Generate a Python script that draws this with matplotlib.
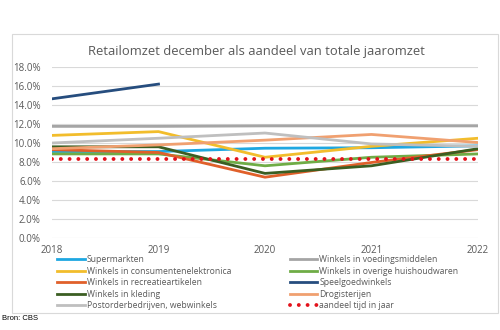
import matplotlib.pyplot as plt
from matplotlib.ticker import PercentFormatter
from matplotlib.patches import Rectangle

plt.rcParams['font.family'] = ['Open Sans', 'DejaVu Sans']

years = [2018, 2019, 2020, 2021, 2022]

supermarkten = [9.1, 9.1, 9.45, 9.5, 9.7]
voedingsmiddelen = [11.75, 11.75, 11.8, 11.8, 11.8]
consumentenelektronica = [10.8, 11.2, 8.5, 9.65, 10.5]
overige_huishoudwaren = [8.85, 8.85, 7.6, 8.5, 8.85]
recreatieartikelen = [9.3, 9.0, 6.4, 7.95, 9.3]
speelgoed_years = [2018, 2019]
speelgoedwinkels = [14.65, 16.2]
kleding = [9.6, 9.6, 6.8, 7.6, 9.4]
drogisterijen = [9.4, 9.8, 10.3, 10.9, 10.05]
postorder = [10.0, 10.5, 11.05, 9.9, 9.65]
aandeel = [8.33, 8.33, 8.33, 8.33, 8.33]

fig = plt.figure(figsize=(5, 3.3), dpi=100)
fig.patches.append(Rectangle((12 / 500, 1 - 313 / 330), 486 / 500, 279 / 330,
                             transform=fig.transFigure, fill=False,
                             edgecolor='#d9d9d9', linewidth=0.8))
ax = fig.add_axes([52 / 500, 1 - 238 / 330, 426 / 500, 171 / 330])

lw = 2.0
h = {}
h['Supermarkten'], = ax.plot(years, supermarkten, color='#1ea7e1', lw=lw)
h['Winkels in voedingsmiddelen'], = ax.plot(years, voedingsmiddelen, color='#a5a5a5', lw=lw)
h['Winkels in consumentenelektronica'], = ax.plot(years, consumentenelektronica, color='#f2bd2c', lw=lw)
h['Winkels in overige huishoudwaren'], = ax.plot(years, overige_huishoudwaren, color='#6fac46', lw=lw)
h['Winkels in recreatieartikelen'], = ax.plot(years, recreatieartikelen, color='#e0602a', lw=lw)
h['Speelgoedwinkels'], = ax.plot(speelgoed_years, speelgoedwinkels, color='#264d7e', lw=lw)
h['Winkels in kleding'], = ax.plot(years, kleding, color='#3b5e22', lw=lw)
h['Drogisterijen'], = ax.plot(years, drogisterijen, color='#f0a070', lw=lw)
h['Postorderbedrijven, webwinkels'], = ax.plot(years, postorder, color='#bfbfbf', lw=lw)
h['aandeel tijd in jaar'], = ax.plot(years, aandeel, color='#e3121b', lw=2.8,
                                     linestyle=(0, (0.01, 2.25)), dash_capstyle='round')

ax.set_xlim(2018, 2022)
ax.set_ylim(0, 18)
ax.set_yticks(range(0, 19, 2))
ax.yaxis.set_major_formatter(PercentFormatter(decimals=1))
ax.set_xticks(years)
ax.grid(axis='y', color='#d9d9d9', linewidth=0.8)
ax.set_axisbelow(True)
for s in ax.spines.values():
    s.set_visible(False)
ax.tick_params(length=0, labelsize=7, labelcolor='#595959')
ax.tick_params(axis='x', pad=5)
ax.tick_params(axis='y', pad=8)

fig.text(256 / 500, 1 - 52 / 330, 'Retailomzet december als aandeel van totale jaaromzet',
         ha='center', va='center', fontsize=9.4, color='#595959')

order = ['Supermarkten', 'Winkels in consumentenelektronica', 'Winkels in recreatieartikelen',
         'Winkels in kleding', 'Postorderbedrijven, webwinkels',
         'Winkels in voedingsmiddelen', 'Winkels in overige huishoudwaren', 'Speelgoedwinkels',
         'Drogisterijen', 'aandeel tijd in jaar']
leg = fig.legend([h[k] for k in order], order, ncol=2, frameon=False, fontsize=6.2,
                 loc='upper left', bbox_to_anchor=(57 / 500, 1 - 255 / 330),
                 handlelength=3.2, handletextpad=0.25, columnspacing=6.8,
                 labelspacing=0.3, borderpad=0, borderaxespad=0)
for t in leg.get_texts():
    t.set_color('#595959')

fig.text(2 / 500, 1 - 318 / 330, 'Bron: CBS', ha='left', va='center', fontsize=5.5,
         family=['Liberation Sans', 'DejaVu Sans'])

fig.savefig('out.png', dpi=100, facecolor='white')
